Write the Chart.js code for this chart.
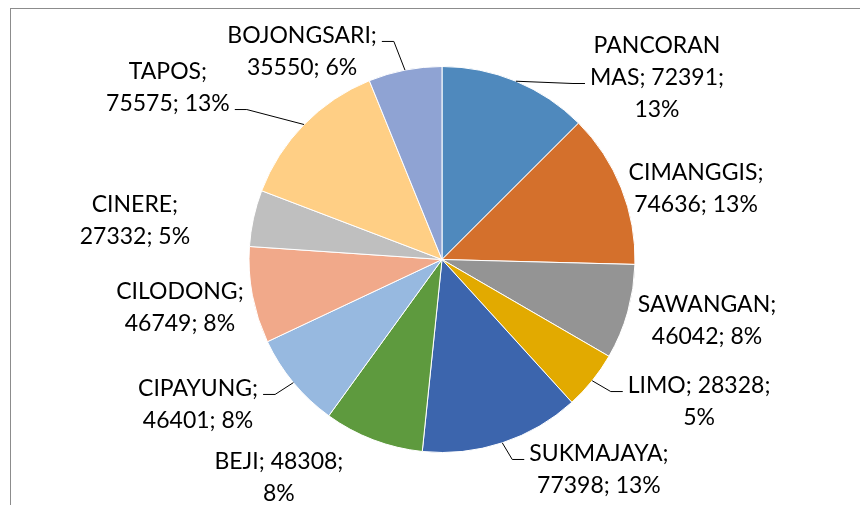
<!DOCTYPE html>
<html>
<head>
<meta charset="utf-8">
<script src="https://cdn.jsdelivr.net/npm/chart.js@4"></script>
<style>
  html, body { margin: 0; padding: 0; background: #fff; }
  #wrap { width: 860px; height: 505px; }
</style>
</head>
<body>
<div id="wrap"><canvas id="pieChart"></canvas></div>
<script>
// data
const districts = ["PANCORAN MAS", "CIMANGGIS", "SAWANGAN", "LIMO", "SUKMAJAYA", "BEJI",
  "CIPAYUNG", "CILODONG", "CINERE", "TAPOS", "BOJONGSARI"];
const population = [72391, 74636, 46042, 28328, 77398, 48308, 46401, 46749, 27332, 75575, 35550];

const sliceColors = ["#4F89BD", "#D4702C", "#949494", "#E2AA00", "#3C65AD", "#5E9A3E",
  "#97B9E0", "#F1A98A", "#BFBFBF", "#FFCF85", "#8FA3D3"];

// label placement, relative to pie radius (x, y from centre)
const labelSpot = [[1.114, -0.943], [1.316, -0.368], [1.373, 0.316], [1.332, 0.736],
  [0.813, 1.088], [-0.845, 1.13], [-1.264, 0.751], [-1.358, 0.249], [-1.591, -0.202],
  [-1.42, -0.891], [-0.725, -1.078]];
// which slices get a leader line, and to which text line
const leaderLine = [1, -1, -1, 0, 0, -1, 0, -1, -1, 1, 0];

const FONT = "23px Lato";
const LINE_H = 32;
const WRAP_W = 153;

function wrapText(ctx, text, maxW) {
  const words = text.split(" ");
  let lines = [], cur = "";
  words.forEach(w => {
    const t = cur ? cur + " " + w : w;
    if (cur && ctx.measureText(t).width > maxW) {
      lines.push(cur);
      cur = w;
    } else cur = t;
  });
  if (cur) lines.push(cur);
  return lines;
}

const frame = {
  id: "frame",
  beforeDraw(chart) {
    const c = chart.ctx;
    c.save();
    c.strokeStyle = "#8c8c8c";
    c.lineWidth = 1;
    c.strokeRect(10.5, 8.5, 1000, 1000);
    c.restore();
  }
};

const pieLabels = {
  id: "pieLabels",
  afterDatasetsDraw(chart) {
    const c = chart.ctx;
    const data = chart.data.datasets[0].data;
    const total = data.reduce((a, b) => a + b, 0);
    c.save();
    c.font = FONT;
    c.fillStyle = "#000";
    c.strokeStyle = "#000";
    c.lineWidth = 1;
    c.textAlign = "center";
    c.textBaseline = "middle";
    chart.getDatasetMeta(0).data.forEach((arc, i) => {
      const p = arc.getProps(["x", "y", "startAngle", "endAngle", "outerRadius"], true);
      const R = p.outerRadius;
      const text = chart.data.labels[i] + "; " + data[i] + "; " + Math.round(data[i] / total * 100) + "%";
      const lines = wrapText(c, text, WRAP_W);
      const lx = p.x + labelSpot[i][0] * R;
      const ly = p.y + labelSpot[i][1] * R;
      const top = ly - (lines.length - 1) * LINE_H / 2;
      lines.forEach((ln, k) => c.fillText(ln, lx, top + k * LINE_H));

      const li = leaderLine[i];
      if (li >= 0) {
        const mid = (p.startAngle + p.endAngle) / 2;
        const ex = p.x + Math.cos(mid) * R;
        const ey = p.y + Math.sin(mid) * R;
        const w = c.measureText(lines[li]).width;
        const yy = top + li * LINE_H + 6;
        const side = lx > ex ? -1 : 1;
        const tx = lx + side * (w / 2 + 5);
        const bx = tx + side * 12;
        c.beginPath();
        c.moveTo(ex, ey);
        c.lineTo(bx, yy);
        c.lineTo(tx, yy);
        c.stroke();
      }
    });
    c.restore();
  }
};

const pieCtx = document.getElementById("pieChart").getContext("2d");
const pieChart = new Chart(pieCtx, {
  type: "pie",
  data: {
    labels: districts,
    datasets: [
      {
        data: population,
        backgroundColor: sliceColors,
        borderColor: "#ffffff",
        borderWidth: 1,
      },
    ],
  },
  options: {
    responsive: true,
    maintainAspectRatio: false,
    animation: false,
    layout: {
      padding: { top: 66, bottom: 52, left: 24, right: 0 },
    },
    plugins: {
      legend: { display: false },
      tooltip: { enabled: false },
    },
  },
  plugins: [frame, pieLabels],
});
</script>
</body>
</html>
